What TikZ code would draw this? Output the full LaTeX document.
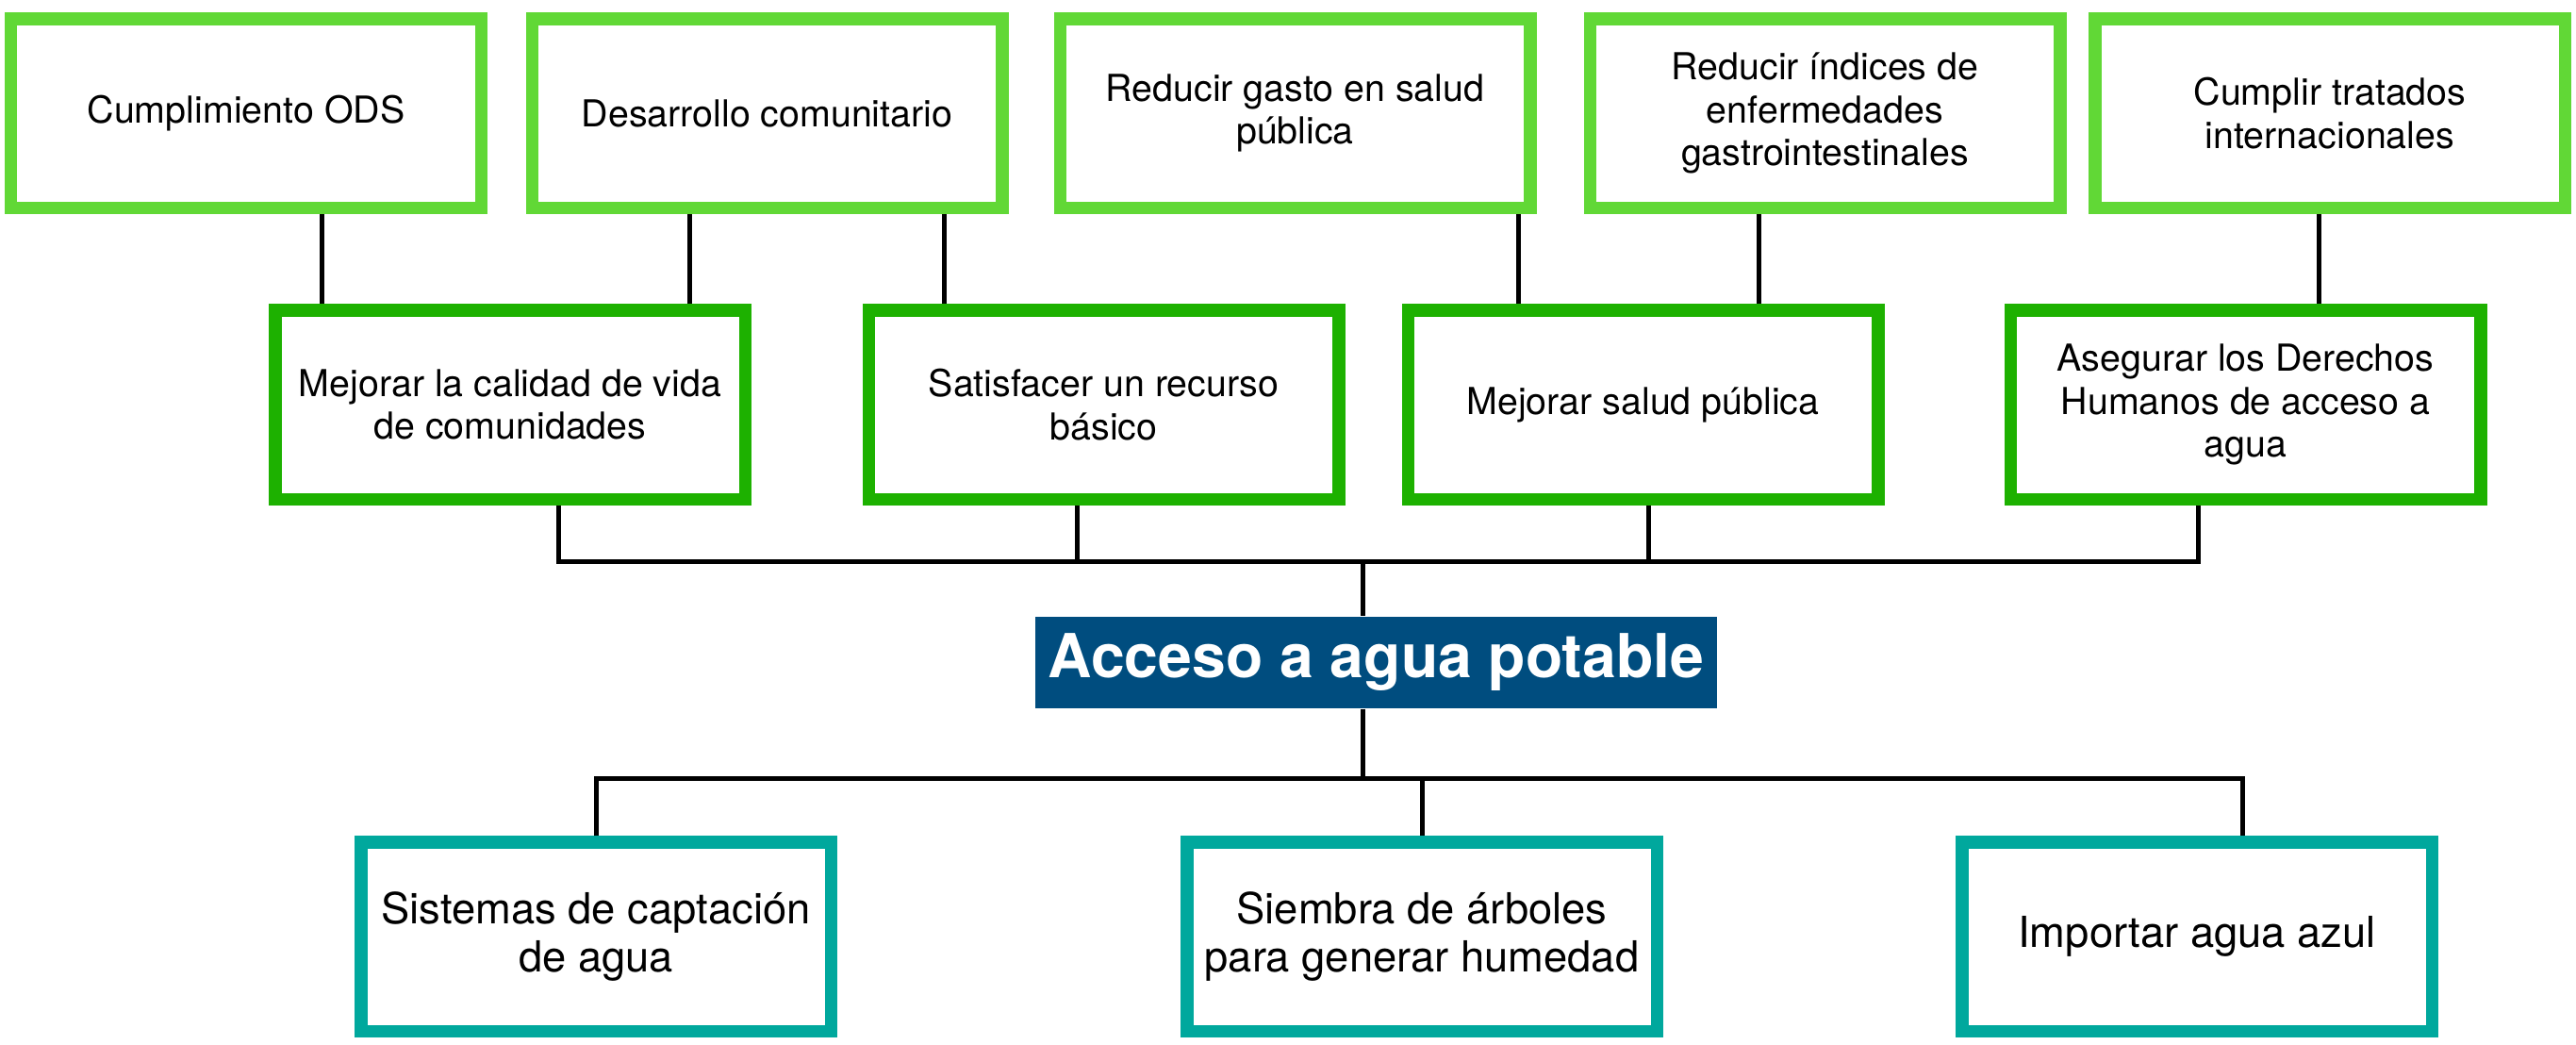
\documentclass[tikz,border=0pt]{standalone}
\usepackage{fontspec}
\setmainfont{TeX Gyre Heros}
\usepackage{xcolor}
\usetikzlibrary{positioning}
\definecolor{hoja}{HTML}{61D836}
\definecolor{pasto}{HTML}{1DB100}
\definecolor{turquesa}{HTML}{00A89D}
\definecolor{marino}{HTML}{004D7F}

\begin{document}
\begin{tikzpicture}[
    caja/.style={draw, line width=0.135cm, fill=white, minimum width=4.985cm,
        minimum height=2.005cm, align=center, font=\fontsize{11.2}{13}\selectfont},
    fin/.style={caja, draw=hoja},
    medio/.style={caja, draw=pasto},
    causa/.style={caja, draw=turquesa, font=\fontsize{12.9}{14.7}\selectfont},
    liga/.style={line width=0.05cm, line join=miter}
]
\useasboundingbox (0,0) rectangle (27.32,-11.07);

\node[fin] (ods) at (2.61, -1.20) {Cumplimiento ODS};
\node[fin] (desa) at (8.135, -1.20) {Desarrollo comunitario};
\node[fin] (gasto) at (13.735, -1.20) {Reducir gasto en salud\\pública};
\node[fin] (indices) at (19.355, -1.20) {Reducir índices de\\enfermedades\\gastrointestinales};
\node[fin] (tratados) at (24.71, -1.20) {Cumplir tratados\\internacionales};

\node[medio] (calidad) at (5.41, -4.29) {Mejorar la calidad de vida\\de comunidades};
\node[medio] (recurso) at (11.705, -4.29) {Satisfacer un recurso\\básico};
\node[medio] (salud) at (17.425, -4.29) {Mejorar salud pública};
\node[medio] (derechos) at (23.815, -4.29) {Asegurar los Derechos\\Humanos de acceso a\\agua};

\node[fill=marino, text=white, minimum width=7.23cm, minimum height=0.97cm, inner sep=0pt,
    font=\fontsize{18.3}{20}\selectfont\bfseries] (titulo) at (14.595, -7.025) {Acceso a agua potable};

\node[causa] (captacion) at (6.32, -9.93) {Sistemas de captación\\de agua};
\node[causa] (siembra) at (15.08, -9.93) {Siembra de árboles\\para generar humedad};
\node[causa] (importar) at (23.30, -9.93) {Importar agua azul};

\coordinate (arriba) at (14.45, -5.95);
\coordinate (abajo) at (14.45, -8.255);

\draw[liga]
(ods.south -| 3.41,0) -- (calidad.north -| 3.41,0)
(desa.south -| 7.31,0) -- (calidad.north -| 7.31,0)
(desa.south -| 10.01,0) -- (recurso.north -| 10.01,0)
(gasto.south -| 16.10,0) -- (salud.north -| 16.10,0)
(indices.south -| 18.65,0) -- (salud.north -| 18.65,0)
(tratados.south -| 24.59,0) -- (derechos.north -| 24.59,0);

\draw[liga]
(calidad.south -| 5.92,0) |- (arriba) -| (derechos.south -| 23.31,0)
(recurso.south -| 11.42,0) -- (arriba -| 11.42,0)
(salud.south -| 17.48,0) -- (arriba -| 17.48,0)
(arriba) -- (titulo.north -| arriba);

\draw[liga]
(titulo.south -| abajo) -- (abajo)
(captacion.north) |- (abajo) -| (importar.north -| 23.78,0)
(siembra.north) -- (siembra.north |- abajo);
\end{tikzpicture}
\end{document}
